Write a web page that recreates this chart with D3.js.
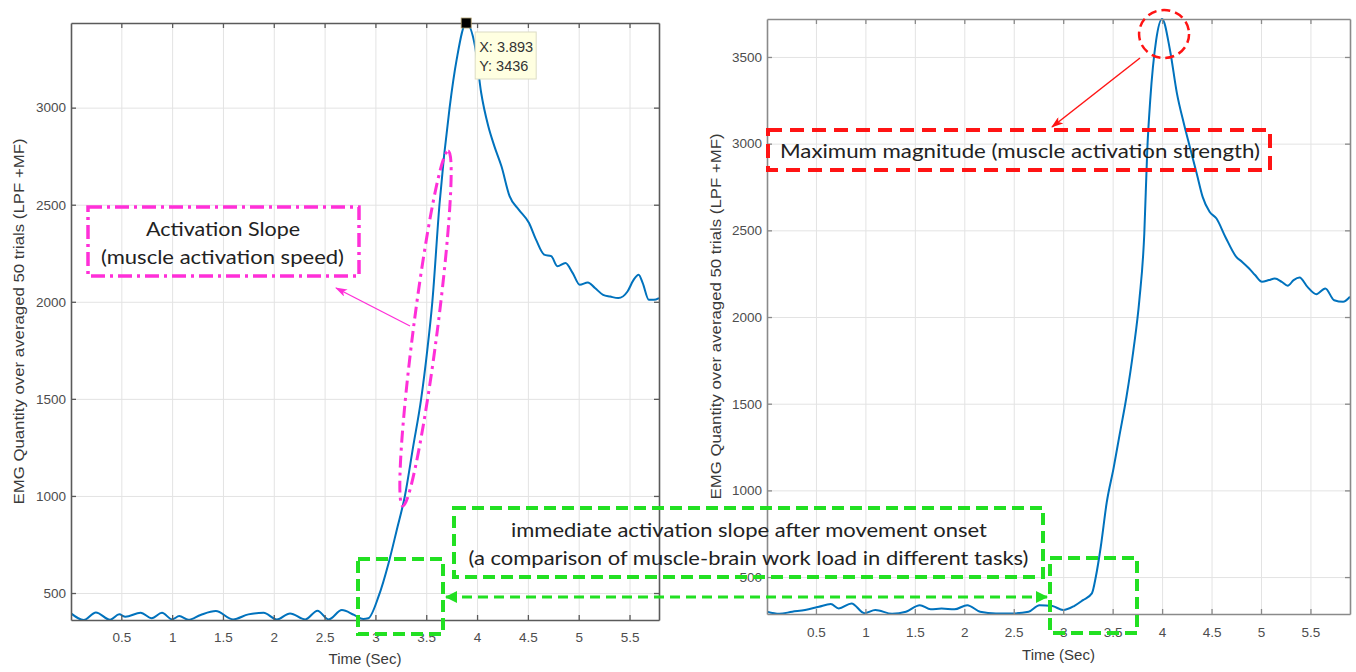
<!DOCTYPE html>
<html><head><meta charset="utf-8">
<script src="https://cdn.jsdelivr.net/npm/d3@7"></script>
<style>body{margin:0;background:#fff}svg{display:block}</style>
</head><body><svg id="c" width="1356" height="672"></svg>
<script>
// ---------- data ----------
const xTicks = [0.5,1,1.5,2,2.5,3,3.5,4,4.5,5,5.5];
const leftYTicks = [500,1000,1500,2000,2500,3000];
const rightYTicks = [500,1000,1500,2000,2500,3000,3500];
const xLabel = "Time (Sec)";
const yLabel = "EMG Quantity over averaged 50 trials (LPF +MF)";

const leftTime = [0.005,0.13,0.25,0.39,0.48,0.54,0.69,0.80,0.90,1.00,1.07,1.16,1.28,1.43,1.60,1.75,1.90,2.03,2.16,2.31,2.43,2.54,2.67,2.79,2.88,2.93,3.03,3.13,3.21,3.29,3.37,3.45,3.51,3.56,3.63,3.73,3.80,3.893,3.98,4.04,4.11,4.17,4.24,4.32,4.41,4.51,4.58,4.66,4.73,4.79,4.87,4.94,5.01,5.09,5.16,5.24,5.31,5.39,5.48,5.54,5.59,5.63,5.69,5.74,5.79];
const leftEMG = [395,361,400,362,390,378,398,370,398,364,381,362,387,407,364,390,398,364,395,364,409,364,412,387,366,370,481,655,825,1000,1250,1500,1750,2000,2500,3000,3250,3436,3316,3078,2905,2802,2698,2544,2475,2407,2320,2243,2235,2183,2200,2149,2088,2100,2071,2036,2027,2019,2053,2113,2139,2096,2010,2010,2019];

const rightTime = [0.005,0.13,0.26,0.39,0.53,0.65,0.73,0.86,0.99,1.10,1.27,1.41,1.55,1.66,1.77,1.90,2.03,2.16,2.32,2.47,2.65,2.76,2.89,3.00,3.11,3.20,3.29,3.33,3.38,3.44,3.51,3.57,3.64,3.71,3.77,3.82,3.85,3.88,3.94,4.00,4.08,4.15,4.22,4.28,4.35,4.41,4.48,4.55,4.64,4.75,4.81,4.88,4.94,5.01,5.08,5.14,5.21,5.27,5.33,5.39,5.47,5.56,5.65,5.74,5.83,5.90];
const rightEMG = [300,288,300,310,329,344,319,348,292,310,288,300,338,314,319,314,338,300,290,290,300,338,333,310,333,367,406,502,675,930,1130,1320,1540,1809,2097,2480,2962,3251,3597,3719,3539,3290,3116,2982,2828,2693,2607,2568,2462,2347,2318,2280,2242,2203,2213,2222,2203,2180,2213,2228,2174,2132,2165,2097,2088,2117];

const dataTipX = 3.893, dataTipY = 3436;

// ---------- drawing ----------
const svg = d3.select("#c");
svg.append("rect").attr("width",1356).attr("height",672).attr("fill","#fff");
const defs = svg.append("defs");

function panel(cfg){
  const x = d3.scaleLinear().domain(cfg.xDom).range([cfg.x0, cfg.x1]);
  const y = d3.scaleLinear().domain(cfg.yDom).range([cfg.y0, cfg.y1]);
  const g = svg.append("g");
  const W = cfg.x1 - cfg.x0, H = cfg.y0 - cfg.y1;
  // grid
  g.append("g").attr("transform",`translate(0,${cfg.y0})`)
    .call(d3.axisBottom(x).tickValues(xTicks).tickSize(-H).tickFormat(""))
    .call(s=>{s.select(".domain").remove(); s.selectAll("line").attr("stroke","#e3e3e3").attr("stroke-width",1);});
  g.append("g").attr("transform",`translate(${cfg.x0},0)`)
    .call(d3.axisLeft(y).tickValues(cfg.yTicks).tickSize(-W).tickFormat(""))
    .call(s=>{s.select(".domain").remove(); s.selectAll("line").attr("stroke","#e3e3e3").attr("stroke-width",1);});
  // line
  const cid = "clip"+cfg.id;
  defs.append("clipPath").attr("id",cid).append("rect")
    .attr("x",cfg.x0).attr("y",cfg.y1-1).attr("width",W).attr("height",H+2);
  const pts = cfg.t.map((t,i)=>[t,cfg.v[i]]);
  g.append("path").datum(pts).attr("clip-path",`url(#${cid})`)
    .attr("fill","none").attr("stroke","#0072BD").attr("stroke-width",2)
    .attr("d", d3.line().x(d=>x(d[0])).y(d=>y(d[1])).curve(d3.curveMonotoneX));
  // axes (inward ticks, box)
  const style = s=>{
    s.select(".domain").attr("stroke",cfg.axis).attr("stroke-width",1.6);
    s.selectAll(".tick line").attr("stroke",cfg.axis).attr("stroke-width",1.3);
    s.selectAll("text").attr("fill","#4d4d4d").attr("font-family","Liberation Sans, Arial, sans-serif").attr("font-size",13.5);
  };
  g.append("g").attr("transform",`translate(0,${cfg.y0})`)
    .call(d3.axisBottom(x).tickValues(xTicks).tickSizeInner(-5).tickSizeOuter(0).tickPadding(cfg.xPad).tickFormat(d3.format("")))
    .call(style);
  g.append("g").attr("transform",`translate(0,${cfg.y1})`)
    .call(d3.axisTop(x).tickValues(xTicks).tickSizeInner(-5).tickSizeOuter(0).tickFormat(""))
    .call(style);
  g.append("g").attr("transform",`translate(${cfg.x0},0)`)
    .call(d3.axisLeft(y).tickValues(cfg.yTicks).tickSizeInner(-5).tickSizeOuter(0).tickPadding(5).tickFormat(d3.format("")))
    .call(style);
  g.append("g").attr("transform",`translate(${cfg.x1},0)`)
    .call(d3.axisRight(y).tickValues(cfg.yTicks).tickSizeInner(-5).tickSizeOuter(0).tickFormat(""))
    .call(style);
  // labels
  g.append("text").attr("x",(cfg.x0+cfg.x1)/2).attr("y",cfg.xLabY)
    .attr("text-anchor","middle").attr("font-family","Liberation Sans, Arial, sans-serif")
    .attr("font-size",15).attr("fill","#3a3a3a").text(xLabel);
  g.append("text").attr("transform",`translate(${cfg.yLabX},${(cfg.y0+cfg.y1)/2}) rotate(-90)`)
    .attr("text-anchor","middle").attr("font-family","Liberation Sans, Arial, sans-serif")
    .attr("font-size",15).attr("fill","#3a3a3a").attr("textLength",366).attr("lengthAdjust","spacingAndGlyphs").text(yLabel);
  return {x,y,g};
}

const L = panel({id:"L", x0:71, x1:659, y0:620, y1:23, xDom:[0.005,5.79], yDom:[361,3436],
  yTicks:leftYTicks, t:leftTime, v:leftEMG, axis:"#5a5a5a", xPad:12, xLabY:664, yLabX:24});
const R = panel({id:"R", x0:767, x1:1350, y0:614, y1:19, xDom:[0.005,5.90], yDom:[287,3719],
  yTicks:rightYTicks, t:rightTime, v:rightEMG, axis:"#8a8a8a", xPad:13, xLabY:660, yLabX:721});

// data tip
const tx = L.x(dataTipX), ty = L.y(dataTipY);
svg.append("rect").attr("x",tx-5).attr("y",ty-5).attr("width",10).attr("height",10)
  .attr("fill","#000").attr("stroke","#b0a070").attr("stroke-width",0.8);
svg.append("rect").attr("x",tx+9).attr("y",ty+9).attr("width",61).attr("height",47)
  .attr("fill","#ffffe1").attr("stroke","#dcdcc4").attr("stroke-width",1);
const tipF = "Liberation Sans, Arial, sans-serif";
svg.append("text").attr("x",tx+13).attr("y",ty+28.5).attr("font-family",tipF).attr("font-size",14.5).attr("fill","#333").text("X: "+dataTipX);
svg.append("text").attr("x",tx+13).attr("y",ty+47.5).attr("font-family",tipF).attr("font-size",14.5).attr("fill","#333").text("Y: "+dataTipY);

// ---------- annotations ----------
const annF = "Lato, 'Open Sans', sans-serif";
function marker(id,color,path,w,h,refX){
  defs.append("marker").attr("id",id).attr("viewBox",`0 0 ${w} ${h}`).attr("refX",refX).attr("refY",h/2)
    .attr("markerWidth",w).attr("markerHeight",h).attr("markerUnits","userSpaceOnUse").attr("orient","auto-start-reverse")
    .append("path").attr("d",path).attr("fill",color).attr("stroke","none");
}
const MAG = "#ff2fd8", RED = "#ff1414", GRN = "#22e022";
marker("mArrow",MAG,"M0,0 L12,4 L0,8 L3,4 Z",12,8,11);
marker("rArrow",RED,"M0,0 L12,4 L0,8 L3,4 Z",12,8,11);
marker("gArrow",GRN,"M0,0 L12,6 L0,12 Z",12,12,11);

// magenta
svg.append("rect").attr("x",88).attr("y",207).attr("width",271).attr("height",69)
  .attr("fill","none").attr("stroke",MAG).attr("stroke-width",3.5).attr("stroke-dasharray","14,5,3,5");
svg.append("text").attr("x",223).attr("y",236).attr("text-anchor","middle").attr("font-family",annF).attr("font-size",20)
  .attr("fill","#222").attr("textLength",154).attr("lengthAdjust","spacingAndGlyphs").text("Activation Slope");
svg.append("text").attr("x",222.5).attr("y",264).attr("text-anchor","middle").attr("font-family",annF).attr("font-size",20)
  .attr("fill","#222").attr("textLength",243).attr("lengthAdjust","spacingAndGlyphs").text("(muscle activation speed)");
svg.append("ellipse").attr("cx",0).attr("cy",0).attr("rx",179).attr("ry",12)
  .attr("transform","translate(425.5,328.5) rotate(-82.7)")
  .attr("fill","none").attr("stroke",MAG).attr("stroke-width",3).attr("stroke-dasharray","12,5,3,5");
svg.append("line").attr("x1",410).attr("y1",326).attr("x2",336).attr("y2",288)
  .attr("stroke",MAG).attr("stroke-width",1.3).attr("marker-end","url(#mArrow)");

// red
svg.append("ellipse").attr("cx",R.x(4.02)).attr("cy",34).attr("rx",25).attr("ry",24)
  .attr("fill","none").attr("stroke",RED).attr("stroke-width",2.5).attr("stroke-dasharray","9,5");
svg.append("line").attr("x1",1140).attr("y1",58).attr("x2",1052).attr("y2",127)
  .attr("stroke",RED).attr("stroke-width",1.5).attr("marker-end","url(#rArrow)");
svg.append("rect").attr("x",768).attr("y",130).attr("width",502).attr("height",40)
  .attr("fill","none").attr("stroke",RED).attr("stroke-width",4).attr("stroke-dasharray","14,8");
svg.append("text").attr("x",780).attr("y",158).attr("font-family",annF).attr("font-size",20)
  .attr("fill","#222").attr("textLength",480).attr("lengthAdjust","spacingAndGlyphs").text("Maximum magnitude (muscle activation strength)");

// green
const gdash = "12,6";
svg.append("rect").attr("x",358).attr("y",559).attr("width",85).attr("height",75)
  .attr("fill","none").attr("stroke",GRN).attr("stroke-width",4).attr("stroke-dasharray",gdash);
svg.append("rect").attr("x",1050).attr("y",558).attr("width",87).attr("height",75)
  .attr("fill","none").attr("stroke",GRN).attr("stroke-width",4).attr("stroke-dasharray",gdash);
svg.append("rect").attr("x",454).attr("y",508).attr("width",589).attr("height",69)
  .attr("fill","none").attr("stroke",GRN).attr("stroke-width",4).attr("stroke-dasharray",gdash);
svg.append("text").attr("x",749).attr("y",537).attr("text-anchor","middle").attr("font-family",annF).attr("font-size",20)
  .attr("fill","#222").attr("textLength",476).attr("lengthAdjust","spacingAndGlyphs").text("immediate activation slope after movement onset");
svg.append("text").attr("x",748.5).attr("y",565).attr("text-anchor","middle").attr("font-family",annF).attr("font-size",20)
  .attr("fill","#222").attr("textLength",560).attr("lengthAdjust","spacingAndGlyphs").text("(a comparison of muscle-brain work load in different tasks)");
svg.append("line").attr("x1",446).attr("y1",597).attr("x2",1047).attr("y2",597)
  .attr("stroke",GRN).attr("stroke-width",3).attr("stroke-dasharray","10,6")
  .attr("marker-start","url(#gArrow)").attr("marker-end","url(#gArrow)");
</script></body></html>
